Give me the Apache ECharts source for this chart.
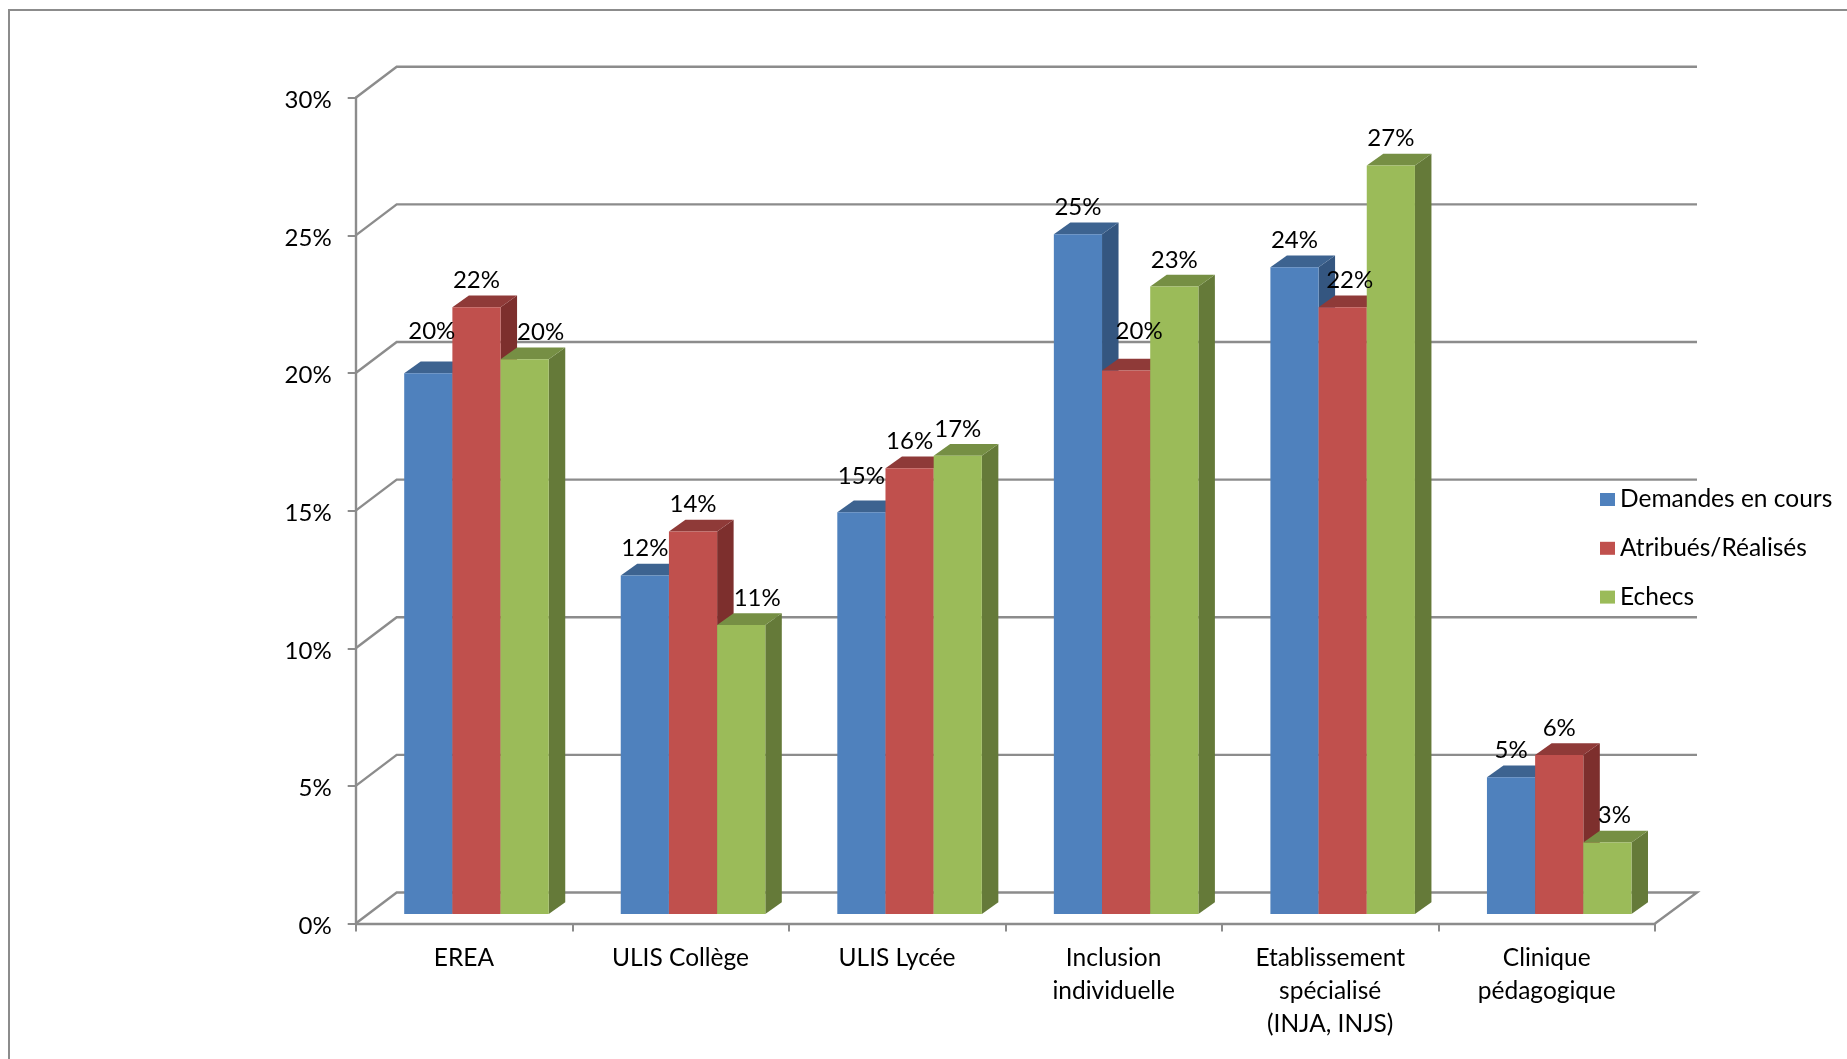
<!DOCTYPE html>
<html>
<head>
<meta charset="utf-8">
<title>Chart</title>
<script src="https://cdn.jsdelivr.net/npm/echarts@6/dist/echarts.min.js"></script>
<style>html,body{margin:0;padding:0;background:#fff}#c{width:1847px;height:1059px}</style>
</head>
<body>
<div id="c"></div>
<script>
const categories = ['EREA','ULIS Collège','ULIS Lycée','Inclusion\nindividuelle','Etablissement\nspécialisé\n(INJA, INJS)','Clinique\npédagogique'];
const demandes = [19.65,12.3,14.6,24.7,23.5,4.97];
const atribues = [22.05,13.9,16.2,19.75,22.05,5.78];
const echecs = [20.16,10.5,16.65,22.8,27.2,2.6];
const yTicks = [0,5,10,15,20,25,30];
const seriesNames = ['Demandes en cours','Atribués/Réalisés','Echecs'];

const seriesValues = [demandes, atribues, echecs];
const palette = [
  {front:'#4F81BD', top:'#3D6390', side:'#345680'},
  {front:'#C0504D', top:'#8F3A38', side:'#7D2F2D'},
  {front:'#9BBB59', top:'#768F44', side:'#657A39'}
];
const labelNudge = [
  [[3.5,-15],[0,0],[0,-9],[0,0],[0,0],[0,0]],
  [[0,0],[0,0],[0,0],[13,-12],[7,0],[0,0]],
  [[16,0],[16,0],[0,0],[0,0],[0,0],[7,0]]
];
const FONT = '"Lato","Open Sans",sans-serif';
const FS = 24;
const FS_TEXT = 24.5;
const wallDX = 41, wallDY = 31;
const plateDX = 12.5, plateDY = 9.4;
const depthDX = 16.5, depthDY = 11.8;
const barRatio = 0.2225;
const AXIS = '#8C8C8C';
const LW = 2.4;

function barGeom(api, cat, val, s){
  const p = api.coord([cat, val]);
  const base = api.coord([cat, 0]);
  const w = api.size([1,0])[0] * barRatio;
  const x0 = p[0] + plateDX + (s - 1.5) * w;
  return {x0, x1: x0 + w, yTop: p[1] - plateDY, yBase: base[1] - plateDY};
}

function renderWall(params, api){
  const v = api.value(1);
  const cs = params.coordSys;
  const y = api.coord([0, v])[1];
  const left = cs.x, right = cs.x + cs.width;
  const children = [{
    type:'polyline',
    shape:{points:[[left,y],[left+wallDX,y-wallDY],[right+wallDX+1,y-wallDY]].concat(v===0?[[right,y]]:[])},
    style:{stroke:AXIS,lineWidth:LW,fill:null}
  }];
  return {type:'group',children};
}

function makeBarRender(s){
  return function(params, api){
    const g = barGeom(api, api.value(0), api.value(1), s);
    const c = palette[s];
    return {type:'group',children:[
      {type:'polygon',shape:{points:[[g.x1,g.yTop],[g.x1+depthDX,g.yTop-depthDY],[g.x1+depthDX,g.yBase-depthDY],[g.x1,g.yBase]]},style:{fill:c.side}},
      {type:'polygon',shape:{points:[[g.x0,g.yTop],[g.x0+depthDX,g.yTop-depthDY],[g.x1+depthDX,g.yTop-depthDY],[g.x1,g.yTop]]},style:{fill:c.top}},
      {type:'rect',shape:{x:g.x0,y:g.yTop,width:g.x1-g.x0,height:g.yBase-g.yTop},style:{fill:c.front}}
    ]};
  };
}

function makeLabelRender(s){
  return function(params, api){
    const cat = api.value(0), val = api.value(1);
    const g = barGeom(api, cat, val, s);
    const n = labelNudge[s][cat];
    return {type:'text',style:{
      text: Math.round(val) + '%',
      x:(g.x0+g.x1)/2 + n[0],
      y:g.yTop - depthDY - 15 + n[1],
      textAlign:'center',textVerticalAlign:'middle',
      fill:'#000',font: FS + 'px ' + FONT
    }};
  };
}

const series = [{
  type:'custom',name:'wall',silent:true,z:1,clip:false,
  coordinateSystem:'cartesian2d',encode:{x:0,y:1},
  renderItem:renderWall,
  data:yTicks.map(t=>[0,t])
}];
seriesNames.forEach((name,s)=>{
  series.push({
    type:'custom',name,z:2+s,clip:false,coordinateSystem:'cartesian2d',encode:{x:0,y:1},
    itemStyle:{color:palette[s].front},
    renderItem:makeBarRender(s),
    data:seriesValues[s].map((v,i)=>[i,v])
  });
});
seriesNames.forEach((name,s)=>{
  series.push({
    type:'custom',name:name+' labels',silent:true,z:6,clip:false,coordinateSystem:'cartesian2d',encode:{x:0,y:1},
    renderItem:makeLabelRender(s),
    data:seriesValues[s].map((v,i)=>[i,v])
  });
});

const chart = echarts.init(document.getElementById('c'),null,{renderer:'canvas'});
chart.setOption({
  animation:false,
  backgroundColor:'#fff',
  grid:{left:355.7,top:97.8,width:1299.3,height:825.7,containLabel:false},
  legend:{
    data:seriesNames,orient:'vertical',left:1600,top:487,padding:0,
    icon:'rect',itemWidth:15,itemHeight:13,itemGap:23.8,selectedMode:false,
    textStyle:{fontFamily:FONT,fontSize:FS_TEXT,color:'#000'}
  },
  xAxis:{
    type:'category',data:categories,boundaryGap:true,
    axisLine:{show:true,lineStyle:{color:AXIS,width:LW}},
    axisTick:{show:true,alignWithLabel:false,length:8,lineStyle:{color:AXIS,width:2}},
    axisLabel:{interval:0,color:'#000',fontFamily:FONT,fontSize:FS_TEXT,lineHeight:33,margin:18},
    splitLine:{show:false}
  },
  yAxis:{
    type:'value',min:0,max:30,interval:5,
    axisLine:{show:true,lineStyle:{color:AXIS,width:LW}},
    axisTick:{show:true,length:8,lineStyle:{color:AXIS,width:2}},
    axisLabel:{
      formatter:'{a|{value}%}',margin:24,
      rich:{a:{color:'#000',fontFamily:FONT,fontSize:FS,padding:[5,0,0,0]}}
    },
    splitLine:{show:false}
  },
  graphic:[
    {type:'polyline',silent:true,shape:{points:[[9,1059],[9,10],[1847,10]]},style:{stroke:AXIS,lineWidth:2,fill:null}}
  ],
  series
});
</script>
</body>
</html>
